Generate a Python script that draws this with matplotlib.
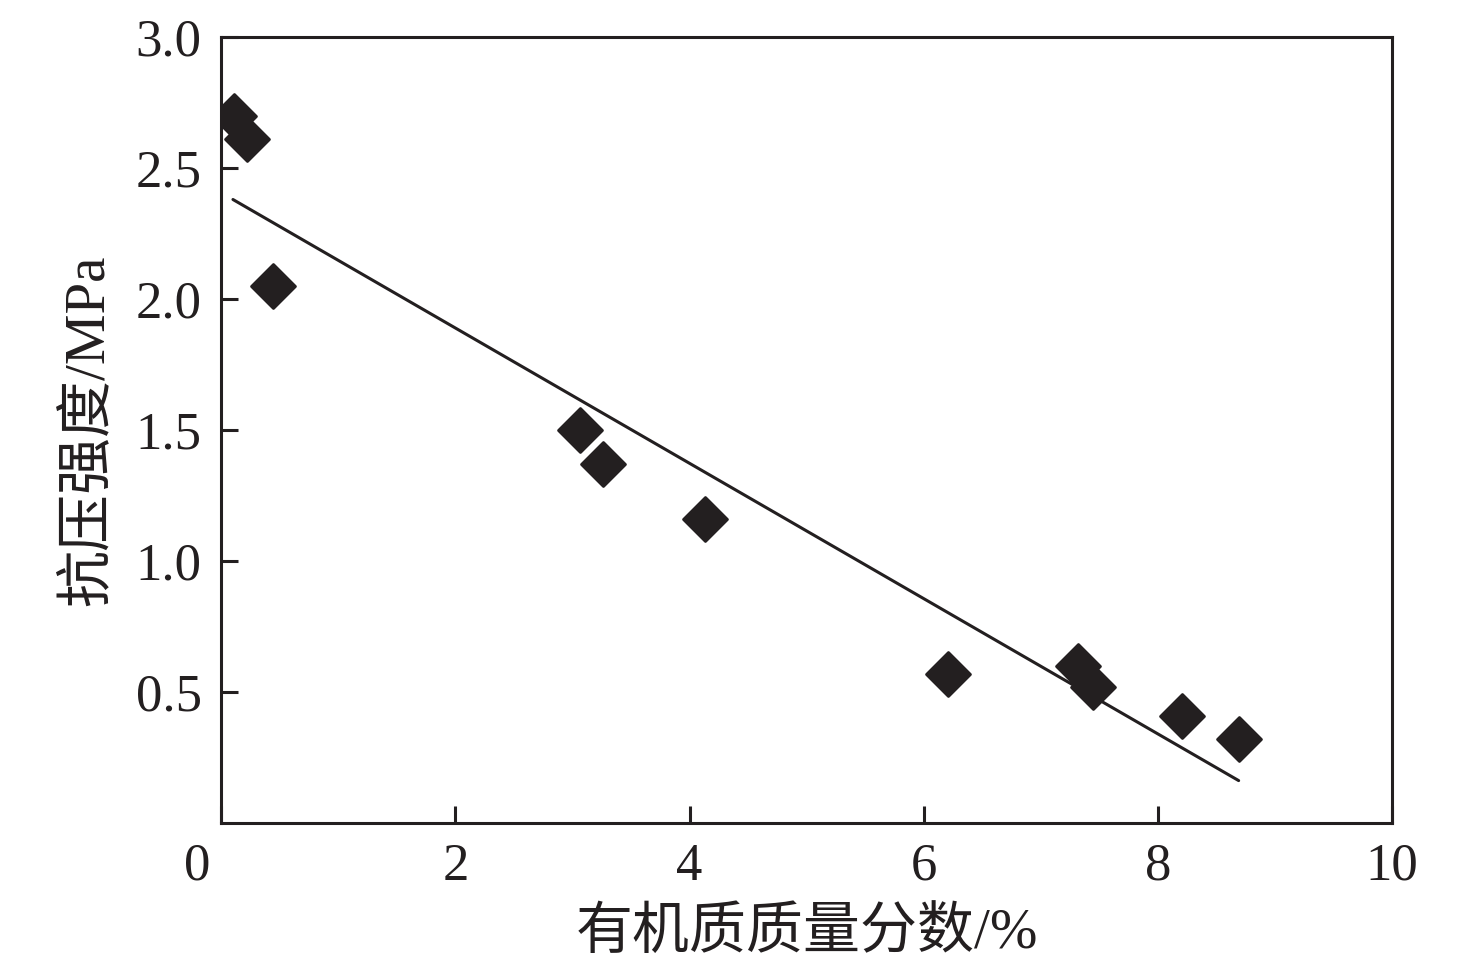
import matplotlib
matplotlib.use('Agg')
import matplotlib.pyplot as plt
from matplotlib.markers import MarkerStyle
from matplotlib.transforms import ScaledTranslation

# organic matter content (%) vs compressive strength (MPa)
organic = [0.11, 0.22, 0.44, 3.06, 3.26, 4.13, 6.21, 7.32, 7.45, 8.21, 8.69]
strength = [2.70, 2.61, 2.05, 1.50, 1.37, 1.16, 0.57, 0.60, 0.52, 0.41, 0.32]

# fitted trend line end points
fit_x = [0.10, 8.69]
fit_y = [2.38, 0.163]

x_ticks = [0, 2, 4, 6, 8, 10]
y_ticks = [0.5, 1.0, 1.5, 2.0, 2.5, 3.0]

ink = '#231f20'
fam = ['Liberation Serif', 'Noto Sans CJK SC', 'DejaVu Sans']
plt.rcParams['font.family'] = fam

fig = plt.figure(figsize=(14.76, 9.71), dpi=100)
ax = fig.add_axes([0.1499, 0.1521, 0.7932, 0.8098])

ax.plot(fit_x, fit_y, color=ink, lw=2.2, solid_capstyle='round', zorder=2)
diamond = MarkerStyle('D', joinstyle='round')
ax.plot(organic, strength, ls='none', marker=diamond, ms=22, mfc=ink, mec=ink,
        mew=2, zorder=3)

ax.set_xlim(0, 10)
ax.set_ylim(0, 3.0)
ax.set_xticks(x_ticks)
ax.set_xticklabels([str(v) for v in x_ticks])
ax.set_yticks(y_ticks)
ax.set_yticklabels(['%.1f' % v for v in y_ticks])

for s in ax.spines.values():
    s.set_linewidth(2.2)
    s.set_color(ink)

ax.tick_params(direction='in', length=12, width=2.2, color=ink,
               labelsize=38, labelcolor=ink, top=False, right=False)
ax.tick_params(axis='x', pad=14)
ax.tick_params(axis='y', pad=14)

# origin label sits left of the corner
lbl0 = ax.get_xticklabels()[0]
lbl0.set_transform(lbl0.get_transform() + ScaledTranslation(-0.245, 0, fig.dpi_scale_trans))

ax.set_xlabel('有机质质量分数/%', fontsize=41, color=ink, labelpad=12)
ax.set_ylabel('抗压强度/MPa', fontsize=41, color=ink, labelpad=15)

fig.savefig('out.png', dpi=100)
